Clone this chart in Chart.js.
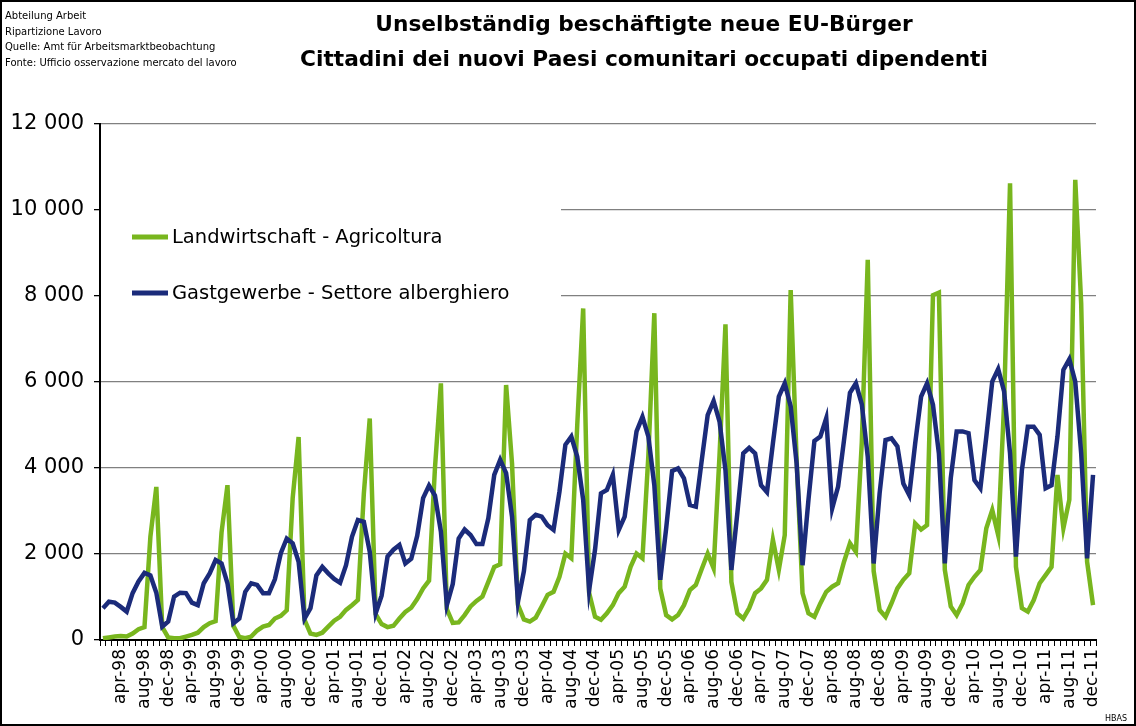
<!DOCTYPE html>
<html>
<head>
<meta charset="utf-8">
<title>Unselbständig beschäftigte neue EU-Bürger</title>
<script src="https://cdn.jsdelivr.net/npm/chart.js@4.4.1/dist/chart.umd.min.js"></script>
<style>
    html, body { margin: 0; padding: 0; background: #fff; }
    #wrap { width: 1136px; height: 726px; }
</style>
</head>
<body>
<div id="wrap"><canvas id="chart" width="1136" height="726"></canvas></div>
<script>
// Monthly data jan-98 .. dec-11

const monthNames = ['jan', 'feb', 'mar', 'apr', 'may', 'jun', 'jul', 'aug', 'sep', 'oct', 'nov', 'dec'];
const years = ['98', '99', '00', '01', '02', '03', '04', '05', '06', '07', '08', '09', '10', '11'];

const yTicks = [0, 2000, 4000, 6000, 8000, 10000, 12000];

// Landwirtschaft - Agricoltura (one row per year)
const agriculture = [
    40, 60, 80, 90, 80, 150, 250, 300, 2400, 3560, 300, 60,
    40, 40, 80, 120, 170, 300, 390, 440, 2500, 3600, 330, 70,
    40, 80, 220, 310, 350, 500, 560, 690, 3300, 4720, 470, 150,
    120, 170, 310, 450, 540, 700, 810, 930, 3400, 5150, 600, 370,
    300, 330, 500, 650, 750, 950, 1200, 1380, 4000, 5970, 720, 400,
    410, 580, 780, 910, 1010, 1350, 1700, 1760, 5930, 4100, 820, 480,
    430, 520, 780, 1050, 1120, 1470, 2010, 1900, 5000, 7710, 1100, 540,
    470, 620, 810, 1090, 1240, 1700, 2010, 1900, 4300, 7600, 1200, 580,
    480, 580, 810, 1160, 1280, 1650, 2010, 1670, 4300, 7340, 1350, 620,
    500, 740, 1090, 1200, 1400, 2330, 1630, 2440, 8140, 4200, 1090, 620,
    540, 850, 1120, 1240, 1320, 1820, 2250, 2050, 4600, 8840, 1600, 700,
    540, 850, 1200, 1400, 1550, 2710, 2570, 2670, 8020, 8080, 1630, 780,
    580, 850, 1280, 1470, 1630, 2600, 3020, 2440, 5500, 10620, 1700, 740,
    660, 930, 1320, 1510, 1700, 3840, 2600, 3260, 10700, 7830, 1820, 810
];

// Gastgewerbe - Settore alberghiero
const hospitality = [
    740, 890, 870, 770, 660, 1090, 1360, 1560, 1500, 1100, 310, 430,
    1010, 1100, 1090, 870, 810, 1320, 1550, 1860, 1780, 1320, 390, 500,
    1120, 1320, 1280, 1090, 1090, 1410, 2020, 2360, 2250, 1820, 500, 740,
    1500, 1700, 1550, 1420, 1330, 1740, 2400, 2790, 2750, 2050, 620, 1030,
    1940, 2100, 2210, 1780, 1890, 2420, 3300, 3590, 3360, 2520, 810, 1300,
    2360, 2570, 2440, 2230, 2230, 2830, 3840, 4190, 3880, 2870, 890, 1600,
    2790, 2910, 2870, 2670, 2560, 3450, 4540, 4730, 4260, 3260, 1160, 2100,
    3410, 3490, 3840, 2560, 2870, 3900, 4850, 5190, 4730, 3600, 1400, 2600,
    3930, 3990, 3760, 3140, 3100, 4180, 5230, 5560, 5080, 3950, 1630, 2950,
    4340, 4470, 4340, 3600, 3440, 4570, 5660, 5970, 5430, 4110, 1740, 3260,
    4630, 4730, 5160, 3060, 3570, 4650, 5750, 5970, 5480, 4260, 1780, 3410,
    4650, 4690, 4500, 3640, 3370, 4570, 5660, 5970, 5470, 4340, 1780, 3760,
    4850, 4850, 4810, 3720, 3530, 4730, 6010, 6300, 5780, 4340, 1940, 3950,
    4960, 4960, 4770, 3530, 3600, 4730, 6280, 6530, 6010, 4340, 1900, 3840
];

const seriesNames = ['Landwirtschaft - Agricoltura', 'Gastgewerbe - Settore alberghiero'];
const titleLines = ['Unselbständig beschäftigte neue EU-Bürger', 'Cittadini dei nuovi Paesi comunitari occupati dipendenti'];
const sourceLines = ['Abteilung Arbeit', 'Ripartizione Lavoro', 'Quelle: Amt für Arbeitsmarktbeobachtung', 'Fonte: Ufficio osservazione mercato del lavoro'];

const labels = [];
years.forEach(y => monthNames.forEach(m => labels.push(`${m}-${y}`)));

const FONT = "'DejaVu Sans', sans-serif";
const GREEN = '#78b61e';
const BLUE = '#1b2b7a';

function formatThousands(v) {
    return String(v).replace(/\B(?=(\d{3})+(?!\d))/g, ' ');
}

// Legend box, headings and the frame
const decorPlugin = {
    id: 'decor',
    beforeDatasetsDraw(chart) {
        const ctx = chart.ctx;
        const area = chart.chartArea;
        ctx.save();
        // the legend sits on a white box that hides the gridlines behind it
        ctx.fillStyle = '#fff';
        ctx.fillRect(area.left + 1, 192, 561 - area.left - 1, 126);

        const rows = [237, 293];
        chart.data.datasets.forEach((ds, i) => {
            const y = rows[i];
            ctx.strokeStyle = ds.borderColor;
            ctx.lineWidth = 5;
            ctx.lineCap = 'butt';
            ctx.beginPath();
            ctx.moveTo(132, y);
            ctx.lineTo(168, y);
            ctx.stroke();
            ctx.fillStyle = '#000';
            ctx.font = `19.5px ${FONT}`;
            ctx.textBaseline = 'middle';
            ctx.textAlign = 'left';
            ctx.fillText(ds.label, 172, y + 1);
        });
        ctx.restore();
    },
    afterDraw(chart) {
        const ctx = chart.ctx;
        ctx.save();
        ctx.fillStyle = '#000';
        ctx.textBaseline = 'alphabetic';

        ctx.font = `10px ${FONT}`;
        ctx.textAlign = 'left';
        sourceLines.forEach((t, i) => ctx.fillText(t, 5, 19 + i * 15.5));

        ctx.font = `bold 21.7px ${FONT}`;
        ctx.textAlign = 'center';
        ctx.fillText(titleLines[0], 644, 31);
        ctx.fillText(titleLines[1], 644, 66);

        ctx.font = `8px ${FONT}`;
        ctx.textAlign = 'right';
        ctx.fillText('HBAS', 1127, 721);

        ctx.strokeStyle = '#000';
        ctx.lineWidth = 2;
        ctx.strokeRect(1, 1, 1134, 724);
        ctx.restore();
    }
};

new Chart(document.getElementById('chart'), {
    type: 'line',
    data: {
        labels: labels,
        datasets: [
            {
                label: seriesNames[0],
                data: agriculture,
                borderColor: GREEN,
                backgroundColor: GREEN,
                borderWidth: 4.5,
                pointRadius: 0,
                tension: 0,
                fill: false,
                order: 2
            },
            {
                label: seriesNames[1],
                data: hospitality,
                borderColor: BLUE,
                backgroundColor: BLUE,
                borderWidth: 4.5,
                pointRadius: 0,
                tension: 0,
                fill: false,
                order: 1
            }
        ]
    },
    options: {
        responsive: false,
        animation: false,
        layout: { padding: { top: 124, right: 40, bottom: 0, left: 0 } },
        plugins: {
            legend: { display: false },
            tooltip: { enabled: false },
            title: { display: false }
        },
        scales: {
            x: {
                offset: true,
                grid: {
                    display: true,
                    offset: true,
                    drawOnChartArea: false,
                    drawTicks: true,
                    tickLength: 6,
                    color: '#000',
                    lineWidth: 1
                },
                border: { display: true, color: '#000', width: 2 },
                ticks: {
                    autoSkip: false,
                    minRotation: 90,
                    maxRotation: 90,
                    padding: 3,
                    color: '#000',
                    font: { family: FONT, size: 17 },
                    callback: function(value, index) {
                        return index % 4 === 3 ? labels[index] : '';
                    }
                },
                afterFit: function(scale) { scale.height = 86; }
            },
            y: {
                min: yTicks[0],
                max: yTicks[yTicks.length - 1],
                afterBuildTicks: function(scale) {
                    scale.ticks = yTicks.map(v => ({ value: v }));
                },
                grid: {
                    color: '#808080',
                    lineWidth: 1.3,
                    tickColor: '#000',
                    tickLength: 6
                },
                border: { display: true, color: '#000', width: 2 },
                ticks: {
                    color: '#000',
                    padding: 10,
                    font: { family: FONT, size: 21 },
                    callback: function(value) { return formatThousands(value); }
                },
                afterFit: function(scale) { scale.width = 100; }
            }
        }
    },
    plugins: [decorPlugin]
});
</script>
</body>
</html>
